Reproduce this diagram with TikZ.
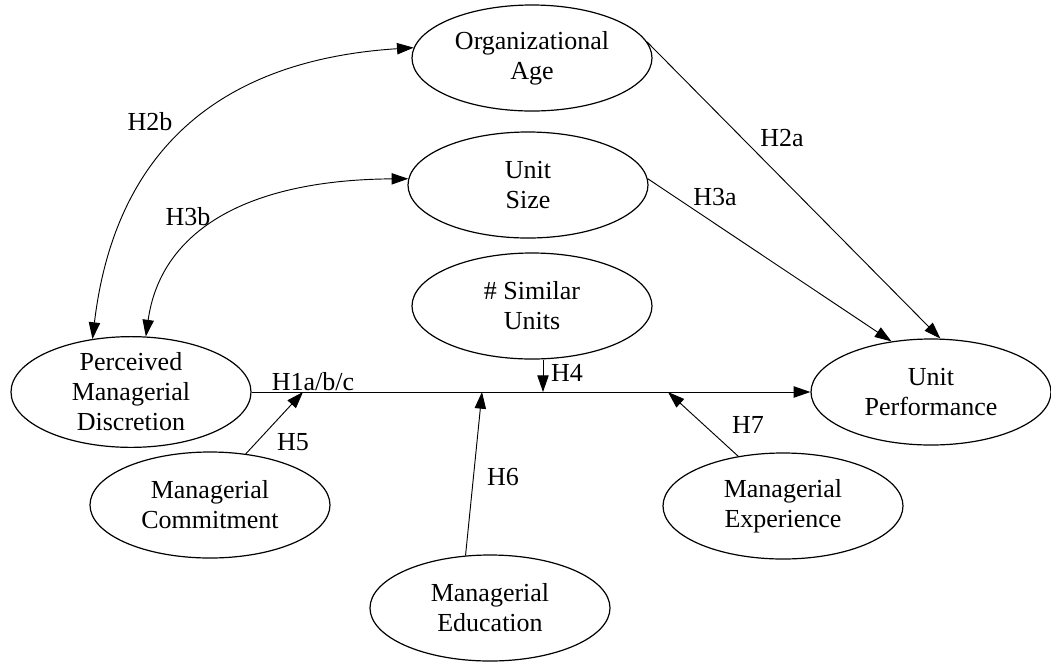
\documentclass[tikz,border=0pt]{standalone}
\usepackage{fontspec}
\setmainfont{Liberation Serif}
\usetikzlibrary{shapes.geometric,arrows.meta}
\begin{document}
\begin{tikzpicture}[x=0.75pt,y=-0.75pt,
  var/.style={draw, ellipse, line width=0.9pt, minimum width=180pt, minimum height=79.5pt,
    inner sep=0pt, align=center, font=\fontsize{19.5}{22.5}\selectfont},
  lbl/.style={font=\fontsize{19.5}{22.5}\selectfont, inner sep=0pt},
  arr/.style={line width=0.7pt, -{Triangle[length=12.5pt,width=8.5pt]}},
  darr/.style={line width=0.7pt, {Triangle[length=12.5pt,width=8.5pt]}-{Triangle[length=12.5pt,width=8.5pt]}}]
\useasboundingbox (0,0) rectangle (1051,662);
\fill[white] (0,0) rectangle (1051,662);

\node[var] (age)  at (532,58)  {Organizational\\Age};
\node[var] (size) at (528,185) {Unit\\Size};
\node[var] (sim)  at (532,306) {\# Similar\\Units};
\node[var] (pmd)  at (131,392) {Perceived\\Managerial\\Discretion};
\node[var] (perf) at (931,392) {Unit\\Performance};
\node[var] (com)  at (210,505) {Managerial\\Commitment};
\node[var] (exp)  at (783,506) {Managerial\\Experience};
\node[var] (edu)  at (490,608) {Managerial\\Education};

% main path
\draw[arr] (pmd.east) -- (perf.west);
\coordinate (m5) at (303,392);
\coordinate (m4) at (543,392);
\coordinate (m6) at (482,392);
\coordinate (m7) at (668,392);

% moderators
\draw[arr] (com.55) -- (m5);
\draw[arr] (m4 |- sim.south) -- (m4);
\draw[arr] (edu.115) -- (m6);
\draw[arr] (exp.132) -- (m7);

% direct effects
\draw[arr] (age.8) -- (perf.80);
\draw[arr] (size.3) -- (perf.128);

% curved links
\draw[darr] (pmd.126) .. controls (115,150) and (220,60) .. (age.175);
\draw[darr] (pmd.75) .. controls (160,235) and (240,180) .. (size.177);

% labels
\node[lbl] (l2b) at (150,122) {H2b};
\node[lbl] (l3b) at (188,217) {H3b};
\node[lbl] (l2a) at (782,138) {H2a};
\node[lbl] (l3a) at (715,197) {H3a};
\node[lbl] (l1)  at (313,382) {H1a/b/c};
\node[lbl] (l4)  at (567,373) {H4};
\node[lbl] (l5)  at (293,442) {H5};
\node[lbl] (l6)  at (503,477) {H6};
\node[lbl] (l7)  at (748,425) {H7};
\end{tikzpicture}
\end{document}
